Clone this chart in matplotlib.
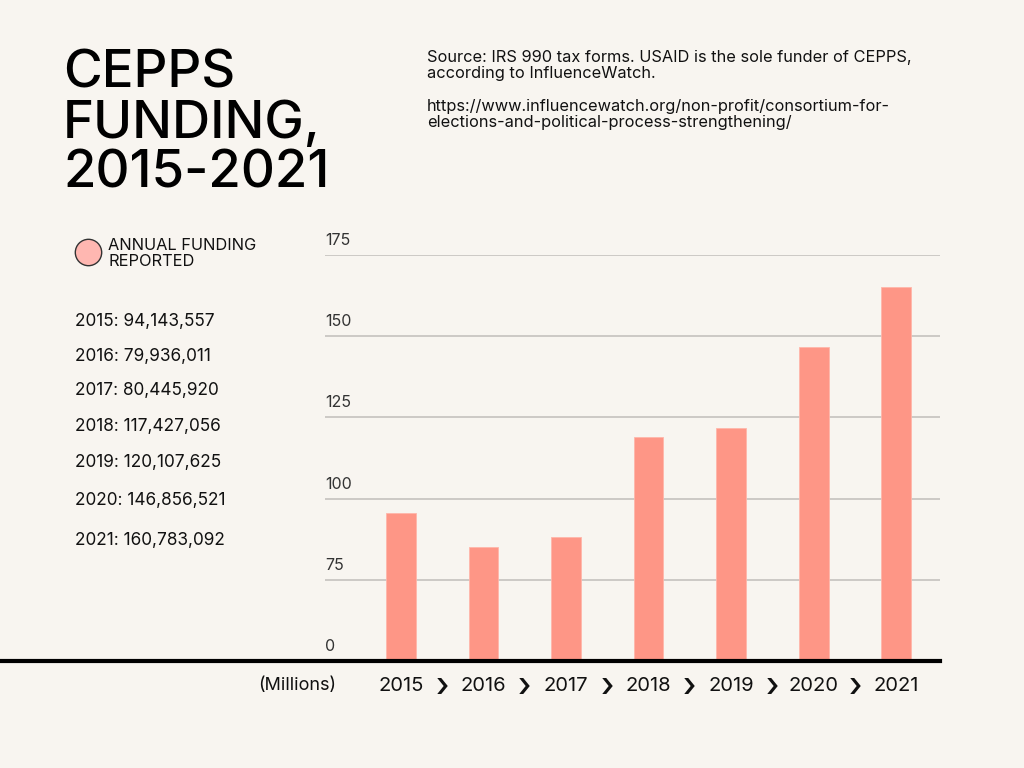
import matplotlib
matplotlib.use('Agg')
import matplotlib.pyplot as plt
from matplotlib.lines import Line2D
import numpy as np

# data
years = ['2015', '2016', '2017', '2018', '2019', '2020', '2021']
bar_heights = [95.6, 85.0, 88.2, 119.0, 121.8, 146.8, 165.3]   # millions, as drawn
reported = ['94,143,557', '79,936,011', '80,445,920', '117,427,056',
            '120,107,625', '146,856,521', '160,783,092']
y_ticks = [0, 75, 100, 125, 150, 175]

BG = '#F8F5F0'
BAR = '#FE9686'
TEXT = '#111111'
GRID = '#C9C6C2'

plt.rcParams['font.family'] = ['Inter', 'DejaVu Sans']

fig = plt.figure(figsize=(10.24, 7.68), dpi=100, facecolor=BG)
ax = fig.add_axes([325 / 1024, 1 - 661 / 768, 615 / 1024, (661 - 255) / 768])
ax.set_facecolor(BG)


# broken axis: 0..75 squeezed into one step, then linear
def fwd(v):
    v = np.asarray(v, dtype=float)
    return np.where(v < 75, v / 3.0, v - 50.0)


def inv(u):
    u = np.asarray(u, dtype=float)
    return np.where(u < 25, u * 3.0, u + 50.0)


ax.set_yscale('function', functions=(fwd, inv))
ax.set_ylim(0, 175)

x = np.arange(len(years))
ax.set_xlim(-0.92, 6.53)

for t in y_ticks[1:]:
    ax.axhline(t, color=GRID, lw=1.3, zorder=1)
ax.bar(x, bar_heights, width=0.36, color=BAR, edgecolor='#FFB6AA', lw=0.6, zorder=2)

for t in y_ticks:
    ax.annotate(str(t), xy=(0, t), xycoords=('axes fraction', 'data'),
                xytext=(0, 5), textcoords='offset points',
                ha='left', va='bottom', fontsize=11.5, color='#333333')

ax.set_xticks([])
ax.set_yticks([])
ax.minorticks_off()
for s in ax.spines.values():
    s.set_visible(False)

# year labels and chevrons below the axis
for i, yr in enumerate(years):
    ax.annotate(yr, xy=(i, 0), xycoords=('data', 'axes fraction'),
                xytext=(0, -18), textcoords='offset points',
                ha='center', va='center', fontsize=14.5, color=TEXT)
    if i < len(years) - 1:
        ax.annotate('\u203a', xy=(i + 0.5, 0), xycoords=('data', 'axes fraction'),
                    xytext=(0, -18.5), textcoords='offset points',
                    ha='center', va='center', fontsize=24, fontweight='medium',
                    color=TEXT)

fig.text(258 / 1024, 1 - 686 / 768, '(Millions)', fontsize=13, color=TEXT,
         ha='left', va='center')

# thick baseline across the page
fig.add_artist(Line2D([0, 940 / 1024], [1 - 661 / 768, 1 - 661 / 768],
                      color='black', lw=3, transform=fig.transFigure))

# title
fig.text(63 / 1024, 1 - 50 / 768, 'CEPPS\nFUNDING,\n2015-2021', fontsize=38,
         fontweight='medium', color='black', ha='left', va='top', linespacing=1.02)

# source note
fig.text(427 / 1024, 1 - 50 / 768,
         'Source: IRS 990 tax forms. USAID is the sole funder of CEPPS,\n'
         'according to InfluenceWatch.',
         fontsize=11.8, color=TEXT, ha='left', va='top', linespacing=1.1)
fig.text(427 / 1024, 1 - 99 / 768,
         'https://www.influencewatch.org/non-profit/consortium-for-\n'
         'elections-and-political-process-strengthening/',
         fontsize=11.8, color=TEXT, ha='left', va='top', linespacing=1.1)

# legend
fig.add_artist(Line2D([88 / 1024], [1 - 252 / 768], marker='o', markersize=19,
                      markerfacecolor='#FFB7B1', markeredgecolor='#333333',
                      markeredgewidth=1, linestyle='none', transform=fig.transFigure))
fig.text(108 / 1024, 1 - 238 / 768, 'ANNUAL FUNDING\nREPORTED', fontsize=11.8,
         color=TEXT, ha='left', va='top', linespacing=1.1)

# reported values list
list_y = [322, 357, 391, 426, 463, 501, 540]
for yr, val, yy in zip(years, reported, list_y):
    fig.text(75 / 1024, 1 - yy / 768, f'{yr}: {val}', fontsize=12.4, color=TEXT,
             ha='left', va='center')

plt.savefig('out.png', dpi=100, facecolor=BG)
plt.close()
